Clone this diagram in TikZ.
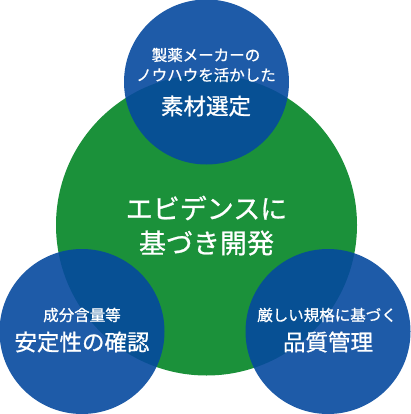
\documentclass[tikz,border=0pt]{standalone}
\usepackage{fontspec}
\setmainfont{Noto Sans CJK JP}[FakeBold=0.8]
\definecolor{cgreen}{RGB}{27,145,58}
\definecolor{cblue}{RGB}{5,73,158}
\begin{document}
\begin{tikzpicture}[x=1pt,y=-1pt,
  bub/.style={circle,fill=cblue,fill opacity=0.9,inner sep=0pt,minimum size=165pt},
  small/.style={text=white,font=\fontsize{15.5}{18}\selectfont,inner sep=0pt},
  big/.style={text=white,font=\fontsize{22.5}{26}\selectfont,inner sep=0pt},
  huge/.style={text=white,font=\fontsize{27}{30}\selectfont,inner sep=0pt}]
\useasboundingbox (0,0) rectangle (410,414);
\node[circle,fill=cgreen,inner sep=0pt,minimum size=301pt] (main) at (206.5,225) {};
\node[bub] (top) at (206.5,82) {};
\node[bub] (left) at (82,331.5) {};
\node[bub] (right) at (328,331.5) {};
\node[huge] (m1) at (206.5,208) {エビデンスに};
\node[huge] (m2) at (206.5,243) {基づき開発};
\node[small] (t1) at (206,55) {製薬メーカーの};
\node[small] (t2) at (206,75) {ノウハウを活かした};
\node[big] (t3) at (206,106) {素材選定};
\node[small] (l1) at (82,315) {成分含量等};
\node[big] (l2) at (82,342) {安定性の確認};
\node[small] (r1) at (327,315) {厳しい規格に基づく};
\node[big] (r2) at (328,342) {品質管理};
\end{tikzpicture}
\end{document}
